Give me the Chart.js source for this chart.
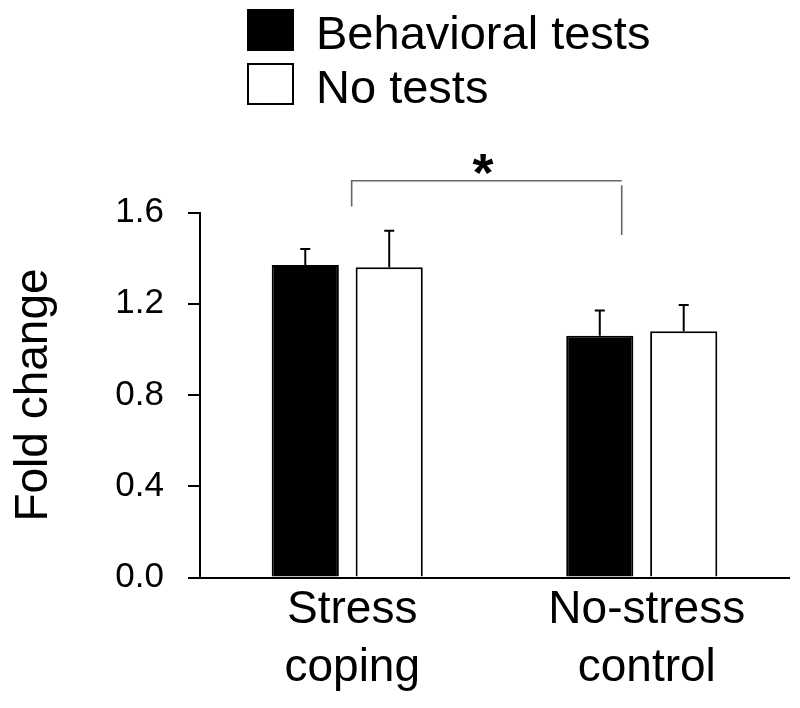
<!DOCTYPE html>
<html>
<head>
<meta charset="utf-8">
<script src="https://cdn.jsdelivr.net/npm/chart.js@4"></script>
<style>
  html, body { margin: 0; padding: 0; background: #fff; }
  #wrap { width: 800px; height: 708px; position: relative; }
</style>
</head>
<body>
<div id="wrap"><canvas id="foldChart"></canvas></div>
<script>
// Data
const categories = [["Stress", "coping"], ["No-stress", "control"]];
const seriesLabels = ["Behavioral tests", "No tests"];
const behavioralMeans = [1.37, 1.06];
const behavioralErrors = [0.07, 0.11];
const noTestMeans = [1.36, 1.08];
const noTestErrors = [0.16, 0.115];
const yTickLabels = ["0.0", "0.4", "0.8", "1.2", "1.6"];

// Significance bracket, in axis units (category index, fold change)
const sigLeft = 0.015;
const sigRight = 0.932;
const sigTop = 1.739;
const sigLeftBottom = 1.626;
const sigRightTop = 1.72;
const sigRightBottom = 1.501;
const sigLabel = "*";
const sigLabelX = 0.461;

const FONT = "'Liberation Sans', Arial, Helvetica, sans-serif";

/**
 * Upward-only error bars with a small cap
 */
const errorBarPlugin = {
  id: "errorBars",
  afterDatasetsDraw(chart) {
    const ctx = chart.ctx;
    const yScale = chart.scales.y;
    chart.data.datasets.forEach((ds, di) => {
      const meta = chart.getDatasetMeta(di);
      meta.data.forEach((bar, i) => {
        const top = yScale.getPixelForValue(ds.data[i]);
        const end = yScale.getPixelForValue(ds.data[i] + ds.errors[i]);
        ctx.save();
        ctx.strokeStyle = "#000";
        ctx.lineWidth = 2;
        ctx.beginPath();
        ctx.moveTo(bar.x, top);
        ctx.lineTo(bar.x, end);
        ctx.moveTo(bar.x - 5, end);
        ctx.lineTo(bar.x + 5, end);
        ctx.stroke();
        ctx.restore();
      });
    });
  }
};

/**
 * Stacked legend in the top-left corner and the significance bracket
 */
const decorPlugin = {
  id: "decor",
  afterDraw(chart) {
    const ctx = chart.ctx;
    const x = chart.scales.x;
    const y = chart.scales.y;

    // legend
    ctx.save();
    chart.data.datasets.forEach((ds, i) => {
      const top = 9 + i * 54;
      ctx.fillStyle = ds.backgroundColor;
      ctx.fillRect(247, top, 47, 42);
      ctx.strokeStyle = "#000";
      ctx.lineWidth = 2;
      ctx.strokeRect(248, top + 1, 45, 40);
      ctx.fillStyle = "#000";
      ctx.font = "47px " + FONT;
      ctx.textBaseline = "alphabetic";
      ctx.textAlign = "left";
      ctx.fillText(ds.label, 316, top + 40);
    });
    ctx.restore();

    // bracket
    const xl = x.getPixelForValue(sigLeft);
    const xr = x.getPixelForValue(sigRight);
    ctx.save();
    ctx.strokeStyle = "#666";
    ctx.lineWidth = 1.6;
    ctx.beginPath();
    ctx.moveTo(xl, y.getPixelForValue(sigLeftBottom));
    ctx.lineTo(xl, y.getPixelForValue(sigTop));
    ctx.lineTo(xr, y.getPixelForValue(sigTop));
    ctx.moveTo(xr, y.getPixelForValue(sigRightTop));
    ctx.lineTo(xr, y.getPixelForValue(sigRightBottom));
    ctx.stroke();
    ctx.fillStyle = "#000";
    ctx.font = "bold 54px " + FONT;
    ctx.textAlign = "center";
    ctx.textBaseline = "alphabetic";
    ctx.fillText(sigLabel, x.getPixelForValue(sigLabelX), 191);
    ctx.restore();
  }
};

const ctx = document.getElementById("foldChart").getContext("2d");
new Chart(ctx, {
  type: "bar",
  data: {
    labels: categories,
    datasets: [
      {
        label: seriesLabels[0],
        data: behavioralMeans,
        errors: behavioralErrors,
        backgroundColor: "#000000",
        borderColor: "#000000",
        borderWidth: 2,
        categoryPercentage: 0.57,
        barPercentage: 0.8
      },
      {
        label: seriesLabels[1],
        data: noTestMeans,
        errors: noTestErrors,
        backgroundColor: "#ffffff",
        borderColor: "#000000",
        borderWidth: 2,
        categoryPercentage: 0.57,
        barPercentage: 0.8
      }
    ]
  },
  options: {
    responsive: true,
    maintainAspectRatio: false,
    animation: false,
    layout: { padding: { top: 212.5, right: 11, bottom: 0, left: 0 } },
    plugins: {
      legend: { display: false },
      tooltip: { enabled: false }
    },
    scales: {
      x: {
        grid: { display: false, drawTicks: false, tickLength: 0 },
        border: { display: true, color: "#000", width: 2 },
        ticks: {
          color: "#000",
          padding: 4,
          labelOffset: 5,
          font: { family: FONT, size: 46, lineHeight: 1.26 }
        },
        afterFit: s => { s.height = 130.5; }
      },
      y: {
        min: 0,
        max: 1.6,
        grid: {
          display: true,
          drawOnChartArea: false,
          drawTicks: true,
          tickLength: 12,
          color: "#000",
          lineWidth: 2
        },
        border: { display: true, color: "#000", width: 2 },
        ticks: {
          stepSize: 0.4,
          color: "#000",
          padding: 24,
          font: { family: FONT, size: 35 },
          callback: (v, i) => yTickLabels[i]
        },
        title: {
          display: true,
          text: "Fold change",
          color: "#000",
          padding: { top: 7, bottom: 0 },
          font: { family: FONT, size: 46 }
        },
        afterFit: s => { s.width = 200; }
      }
    }
  },
  plugins: [errorBarPlugin, decorPlugin]
});
</script>
</body>
</html>
